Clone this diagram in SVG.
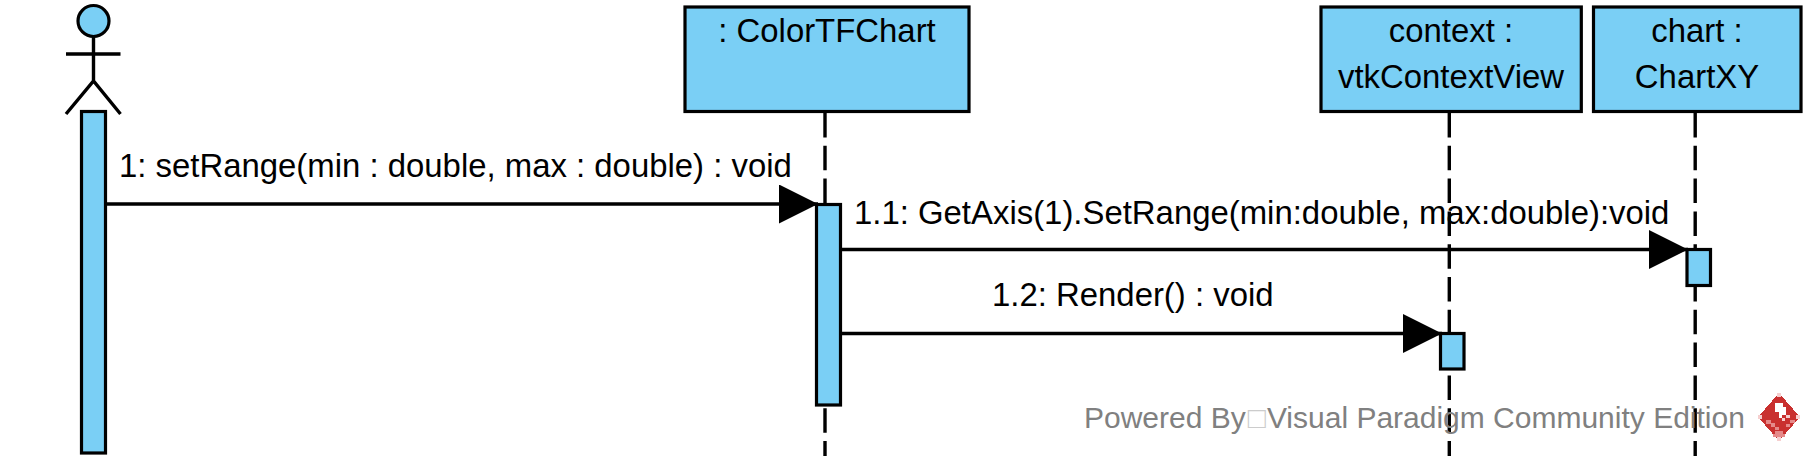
<svg xmlns="http://www.w3.org/2000/svg" width="1815" height="468" viewBox="0 0 1815 468">
<style>
.b{fill:#7ACFF5;stroke:#000;stroke-width:3.2}
.l{fill:none;stroke:#000;stroke-width:3.4}
.d{stroke-dasharray:24.5 8.3}
.t{font-family:"Liberation Sans",Arial,sans-serif;font-size:32.9px;fill:#000}
.m{text-anchor:middle}
.w{font-family:"Liberation Sans",Arial,sans-serif;font-size:30px;fill:#808080}
.r{fill:#C9302F}.p{fill:#E58A8A}.q{fill:#F6CFCF}.h{fill:#fff}
</style>
<defs><marker id="ah" markerUnits="userSpaceOnUse" markerWidth="40" markerHeight="40" refX="39" refY="19.500" orient="auto"><path d="M0 0L39 19.500L0 39Z" fill="#000"/></marker></defs>
<rect width="1815" height="468" fill="#fff"/>
<g id="lifelines">
<path class="l d" d="M825 113V456"/>
<path class="l d" d="M1449.300 113V456"/>
<path class="l d" d="M1695.200 113V456"/>
</g>
<g id="actor">
<circle cx="93.500" cy="21" r="15.500" class="b"/>
<path class="l" d="M93.500 36.500V81M66 54H120.500M66 114L93.500 81L120.500 114"/>
<rect x="81.500" y="111.500" width="24" height="341.500" class="b"/>
</g>
<g id="colorTFChart">
<rect x="685" y="7" width="284" height="104.500" class="b"/>
<text x="827" y="42" class="t m">: ColorTFChart</text>
<rect x="816.500" y="204.500" width="24" height="200.500" class="b"/>
</g>
<g id="context">
<rect x="1321" y="7" width="260.300" height="104.500" class="b"/>
<text x="1451" y="42" class="t m">context :</text>
<text x="1451" y="88" class="t m">vtkContextView</text>
<rect x="1440.500" y="333.500" width="23.500" height="35.500" class="b"/>
</g>
<g id="chart">
<rect x="1593.500" y="7" width="207.500" height="104.500" class="b"/>
<text x="1697" y="42" class="t m">chart :</text>
<text x="1697" y="88" class="t m">ChartXY</text>
<rect x="1687" y="249.500" width="23.500" height="36" class="b"/>
</g>
<g id="connectors">
<path class="l" marker-end="url(#ah)" d="M106 204H818"/>
<path class="l" marker-end="url(#ah)" d="M841 249.500H1688"/>
<path class="l" marker-end="url(#ah)" d="M841 333.500H1442"/>
</g>
<g id="labels">
<text x="119" y="177" class="t">1: setRange(min : double, max : double) : void</text>
<text x="854" y="224" class="t">1.1: GetAxis(1).SetRange(min:double, max:double):void</text>
<text x="992" y="306" class="t">1.2: Render() : void</text>
</g>
<g id="watermark">
<text x="1084" y="428" class="w">Powered By<tspan fill="#ccc" dx="2">□</tspan><tspan dx="1">Visual Paradigm Community Edition</tspan></text>
<g shape-rendering="crispEdges">
<path class="r" d="M1779 393L1800 417L1779 441L1758 417Z"/>
<path class="q" d="M1777 393h4v4h-4zM1758 415h4v4h-4zM1796 415h4v4h-4zM1777 437h4v4h-4z"/>
<path class="h" d="M1775 403h8v4h3v8h-4v3h-3v-6h-4v-5h-0z"/>
<path class="q" d="M1786 415h4v3h-4zM1782 418h3v3h-3z"/>
<path class="p" d="M1766 420h5v3h4v4h4v3h-4v-3h-4v-3h-5zM1790 420h5v3h-5zM1786 424h4v3h-4zM1775 431h8v3h-8zM1773 434h12v3h-12z"/>
</g>
</g>
</svg>
